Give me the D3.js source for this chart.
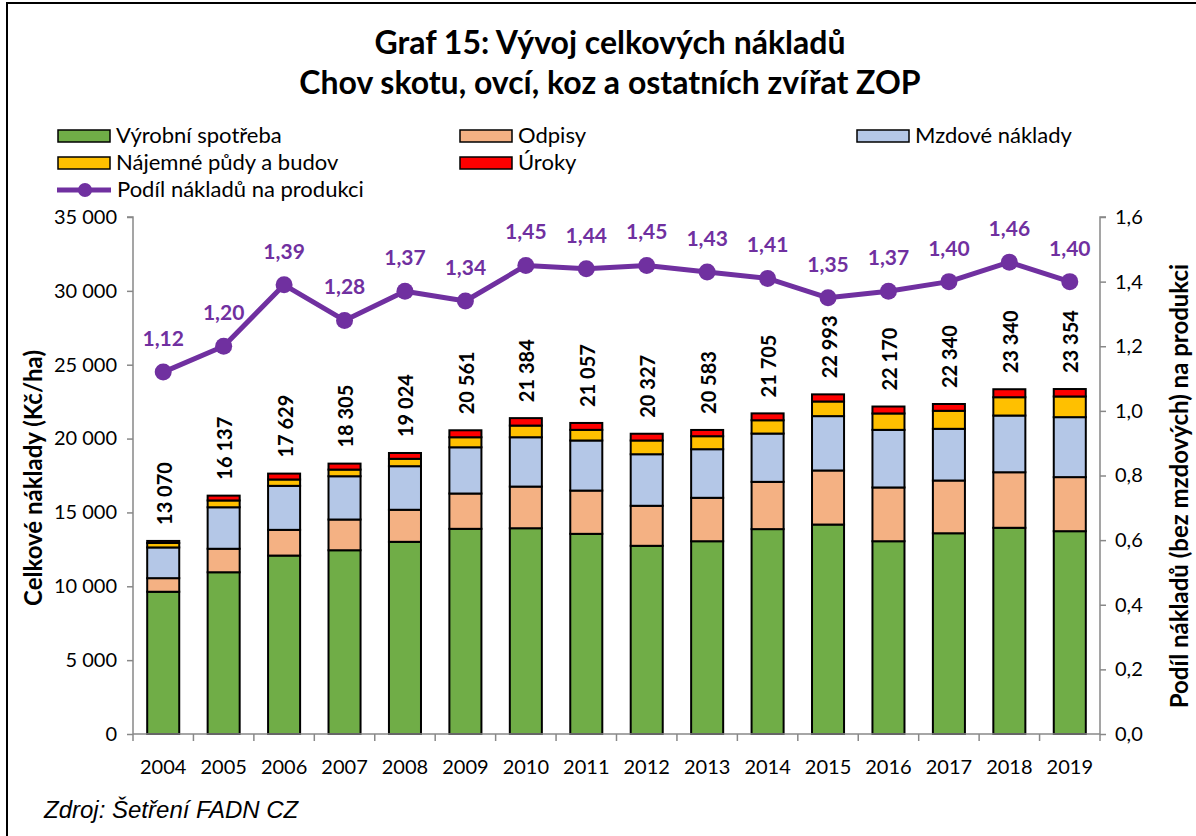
<!DOCTYPE html>
<html><head><meta charset="utf-8">
<script src="https://cdn.jsdelivr.net/npm/d3@7"></script>
<style>
html,body{margin:0;padding:0;background:#fff;}
svg{display:block;}
</style></head>
<body>
<svg id="chart" width="1196" height="836"></svg>
<script>
const years = ["2004","2005","2006","2007","2008","2009","2010","2011","2012","2013","2014","2015","2016","2017","2018","2019"];
const vyrobniSpotreba = [9630,10950,12080,12440,13010,13890,13930,13550,12740,13050,13870,14180,13050,13590,13960,13730];
const odpisy        = [920,1590,1740,2080,2170,2390,2820,2930,2710,2940,3200,3660,3640,3570,3760,3660];
const mzdoveNaklady = [2080,2810,2980,2930,2950,3130,3340,3390,3490,3290,3270,3680,3900,3500,3840,4060];
const najemne       = [300,460,430,450,500,680,790,720,930,880,900,990,1110,1220,1240,1400];
const uroky         = [140,327,399,405,394,471,504,467,457,423,465,483,470,460,540,504];
const totals        = [13070,16137,17629,18305,19024,20561,21384,21057,20327,20583,21705,22993,22170,22340,23340,23354];
const podil         = [1.12,1.20,1.39,1.28,1.37,1.34,1.45,1.44,1.45,1.43,1.41,1.35,1.37,1.40,1.46,1.40];
const leftTicks  = [0,5000,10000,15000,20000,25000,30000,35000];
const rightTicks = [0,0.2,0.4,0.6,0.8,1.0,1.2,1.4,1.6];

const seriesNames = ["Výrobní spotřeba","Odpisy","Mzdové náklady","Nájemné půdy a budov","Úroky"];
const seriesColors = ["#70AD47","#F4B183","#B4C7E7","#FFC000","#FF0000"];
const seriesData = [vyrobniSpotreba, odpisy, mzdoveNaklady, najemne, uroky];
const lineName = "Podíl nákladů na produkci";
const lineColor = "#7030A0";

const svg = d3.select("#chart");
const FONT = "Lato, 'Open Sans', sans-serif";
const fmt = v => d3.format(",")(v).replace(/,/g, " ");
const fmtDec = (v, n) => v.toFixed(n).replace(".", ",");

// frame
svg.append("rect").attr("x",7).attr("y",3).attr("width",1250).attr("height",900)
  .attr("fill","none").attr("stroke","#000").attr("stroke-width",2);

// title
const title = svg.append("text").attr("text-anchor","middle").attr("font-family",FONT)
  .attr("font-weight","bold").attr("font-size",32).attr("fill","#000");
title.append("tspan").attr("x",610).attr("y",54).text("Graf 15: Vývoj celkových nákladů");
title.append("tspan").attr("x",610).attr("y",94).text("Chov skotu, ovcí, koz a ostatních zvířat ZOP");

const x0 = 133, x1 = 1100, yTop = 217, yBot = 734;
const x = d3.scaleBand().domain(years).range([x0, x1]).paddingInner(0.47).paddingOuter(0.235);
const y = d3.scaleLinear().domain([0,35000]).range([yBot, yTop]);
const y2 = d3.scaleLinear().domain([0,1.6]).range([yBot, yTop]);

// stacked data
const rows = years.map((yr,i) => {
  const o = {year: yr};
  seriesNames.forEach((n,k) => o[n] = seriesData[k][i]);
  return o;
});
const stack = d3.stack().keys(seriesNames)(rows);

const gBars = svg.append("g");
stack.forEach((layer,k) => {
  gBars.selectAll(null).data(layer).enter().append("rect")
    .attr("x", d => x(d.data.year))
    .attr("width", x.bandwidth())
    .attr("y", d => y(d[1]))
    .attr("height", d => y(d[0]) - y(d[1]))
    .attr("fill", seriesColors[k])
    .attr("stroke","#000").attr("stroke-width",2);
});

// axes
const axisColor = "#888";
const gL = svg.append("g").attr("transform",`translate(${x0},0)`)
  .call(d3.axisLeft(y).tickValues(leftTicks).tickSize(6).tickFormat(fmt));
const gR = svg.append("g").attr("transform",`translate(${x1},0)`)
  .call(d3.axisRight(y2).tickValues(rightTicks).tickSize(6).tickFormat(d => fmtDec(d,1)));
const gX = svg.append("g").attr("transform",`translate(0,${yBot})`)
  .call(d3.axisBottom(x).tickSize(0).tickPadding(26));
[gL,gR,gX].forEach(g => {
  g.selectAll("path").attr("stroke",axisColor).attr("stroke-width",1.5);
  g.selectAll("line").attr("stroke",axisColor).attr("stroke-width",1.5);
  g.selectAll("text").attr("font-family",FONT).attr("font-size",20).attr("fill","#000");
});
gL.select("path").attr("d",`M-6,${yTop}H0V${yBot}`);
gR.select("path").attr("d",`M6,${yTop}H0V${yBot}`);
gL.selectAll("text").attr("x",-16);
gR.selectAll("text").attr("x",15);
gX.select("path").attr("d",`M${x0},0H${x1}`);
// x ticks at band boundaries
const step = x.step();
gX.selectAll(".bt").data(d3.range(years.length+1)).enter().append("line")
  .attr("x1", i => x0 + i*step).attr("x2", i => x0 + i*step)
  .attr("y1",0).attr("y2",7).attr("stroke",axisColor).attr("stroke-width",1.5);

// axis titles
svg.append("text").attr("transform",`translate(42,478) rotate(-90)`)
  .attr("text-anchor","middle").attr("font-family",FONT).attr("font-weight","bold")
  .attr("font-size",24).text("Celkové náklady (Kč/ha)");
svg.append("text").attr("transform",`translate(1188,486) rotate(-90)`)
  .attr("text-anchor","middle").attr("font-family",FONT).attr("font-weight","bold")
  .attr("font-size",24).text("Podíl nákladů (bez mzdových) na produkci");

// total labels
svg.append("g").selectAll("text").data(rows).enter().append("text")
  .attr("transform",(d,i) => `translate(${x(d.year)+x.bandwidth()/2+8.5},${y(totals[i])-16}) rotate(-90)`)
  .attr("text-anchor","start").attr("font-family",FONT).attr("font-weight","bold")
  .attr("font-size",20).attr("fill","#000").text((d,i) => fmt(totals[i]));

// line
const cx = d => x(d) + x.bandwidth()/2;
const line = d3.line().x((d,i) => cx(years[i])).y(d => y2(d));
svg.append("path").datum(podil).attr("d",line).attr("fill","none")
  .attr("stroke",lineColor).attr("stroke-width",5).attr("stroke-linejoin","round");
svg.append("g").selectAll("circle").data(podil).enter().append("circle")
  .attr("cx",(d,i) => cx(years[i])).attr("cy",d => y2(d)).attr("r",8.5).attr("fill",lineColor);
svg.append("g").selectAll("text").data(podil).enter().append("text")
  .attr("x",(d,i) => cx(years[i])).attr("y",d => y2(d)-26)
  .attr("text-anchor","middle").attr("font-family",FONT).attr("font-weight","bold")
  .attr("font-size",21).attr("fill",lineColor).text(d => fmtDec(d,2));

// legend
const legendItems = [
  {name: seriesNames[0], color: seriesColors[0], x: 58, y: 130},
  {name: seriesNames[1], color: seriesColors[1], x: 460, y: 130},
  {name: seriesNames[2], color: seriesColors[2], x: 857, y: 130},
  {name: seriesNames[3], color: seriesColors[3], x: 58, y: 157},
  {name: seriesNames[4], color: seriesColors[4], x: 460, y: 157}
];
const gLeg = svg.append("g");
legendItems.forEach(it => {
  gLeg.append("rect").attr("x",it.x).attr("y",it.y).attr("width",52).attr("height",12)
    .attr("fill",it.color).attr("stroke","#000").attr("stroke-width",1.5);
  gLeg.append("text").attr("x",it.x+58).attr("y",it.y+13).attr("font-family",FONT)
    .attr("font-size",22).attr("fill","#000").text(it.name);
});
gLeg.append("line").attr("x1",57).attr("x2",111).attr("y1",190).attr("y2",190)
  .attr("stroke",lineColor).attr("stroke-width",5);
gLeg.append("circle").attr("cx",85).attr("cy",190).attr("r",7).attr("fill",lineColor);
gLeg.append("text").attr("x",117).attr("y",197).attr("font-family",FONT)
  .attr("font-size",22).attr("fill","#000").text(lineName);

// footer
svg.append("text").attr("x",44).attr("y",818).attr("font-family","'Liberation Sans', Arial, sans-serif")
  .attr("font-style","italic").attr("font-size",24).attr("fill","#000").text("Zdroj: Šetření FADN CZ");
</script>
</body></html>
